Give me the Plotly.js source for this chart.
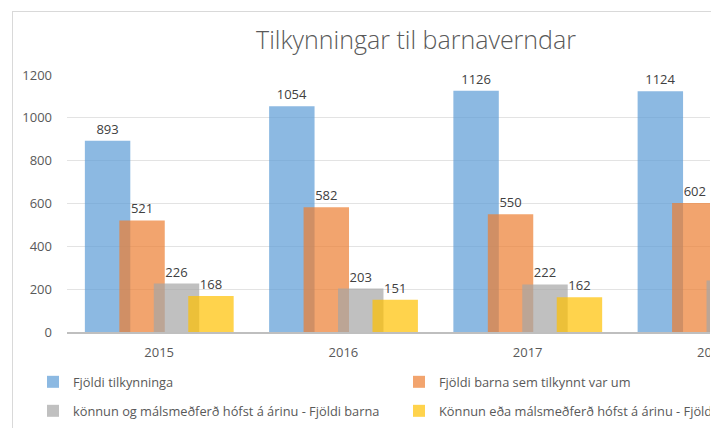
<!DOCTYPE html>
<html>
<head>
<meta charset="utf-8">
<script src="https://cdn.plot.ly/plotly-3.0.1.min.js"></script>
<style>
  html, body { margin: 0; padding: 0; overflow: hidden; background: #fff; width: 722px; height: 428px; }
  #chart { position: absolute; left: 0; top: 0; width: 820px; height: 428px; }
  #mask { position: absolute; left: 710px; top: 0; width: 120px; height: 428px; background: #fff; z-index: 10; }
  #frame { position: absolute; left: 12px; top: 11px; width: 698px; height: 430px; border-top: 1px solid #d9d9d9; border-left: 1px solid #d9d9d9; z-index: 11; pointer-events: none; }
</style>
</head>
<body>
<div id="chart"></div>
<div id="mask"></div>
<div id="frame"></div>
<script>
const years = ['2015', '2016', '2017', '2018'];
const fjoldiTilkynninga = [893, 1054, 1126, 1124];
const fjoldiBarna = [521, 582, 550, 602];
const konnunFjoldiBarna = [226, 203, 222, 240];
const konnunFjoldiMala = [168, 151, 162, 180];
const seriesNames = [
  'Fjöldi tilkynninga',
  'Fjöldi barna sem tilkynnt var um',
  'könnun og málsmeðferð hófst á árinu - Fjöldi barna',
  'Könnun eða málsmeðferð hófst á árinu - Fjöldi mála'
];
const seriesValues = [fjoldiTilkynninga, fjoldiBarna, konnunFjoldiBarna, konnunFjoldiMala];
const colors = ['rgba(91,155,213,0.7)', 'rgba(237,125,49,0.7)', 'rgba(165,165,165,0.7)', 'rgba(255,192,0,0.7)'];
const offsets = [-0.403, -0.216, -0.029, 0.158];
const legendIds = ['legend', 'legend', 'legend2', 'legend2'];

const FONT = 'Open Sans, DejaVu Sans, sans-serif';
const W = 820, H = 428;

const traces = seriesValues.map((vals, i) => ({
  type: 'bar',
  name: seriesNames[i],
  x: years,
  y: vals,
  width: 0.2466,
  offset: offsets[i],
  marker: { color: colors[i], line: { width: 0 } },
  text: vals.map(String),
  textposition: 'outside',
  cliponaxis: false,
  constraintext: 'none',
  textfont: { family: FONT, size: 13, color: '#404040' },
  legend: legendIds[i]
}));

const legendCommon = {
  orientation: 'h',
  xref: 'container', x: 33 / W, xanchor: 'left',
  yref: 'container', yanchor: 'middle',
  entrywidth: 321, entrywidthmode: 'pixels',
  font: { family: FONT, size: 12.8, color: '#595959' },
  bgcolor: 'rgba(0,0,0,0)'
};

const layout = {
  width: W,
  height: H,
  barmode: 'overlay',
  paper_bgcolor: '#ffffff',
  plot_bgcolor: '#ffffff',
  margin: { l: 66.5, r: W - 804.5, t: 75, b: 96 },
  font: { family: FONT, color: '#595959' },
  title: {
    text: 'Tilkynningar til barnaverndar',
    font: { family: FONT, size: 25, color: '#595959', weight: 300 },
    xref: 'container', x: 416 / W, xanchor: 'center',
    yref: 'container', y: 1 - 40 / H, yanchor: 'middle'
  },
  xaxis: {
    type: 'category',
    range: [-0.5, 3.5],
    showline: true, linecolor: '#bfbfbf', linewidth: 1.5,
    showgrid: false, zeroline: false, ticks: '',
    tickfont: { family: FONT, size: 13, color: '#595959' },
    ticklabelstandoff: 8
  },
  yaxis: {
    range: [0, 1200],
    dtick: 200,
    showline: false,
    gridcolor: '#e3e3e3', gridwidth: 1,
    zeroline: false, ticks: '',
    tickfont: { family: FONT, size: 13, color: '#595959' },
    ticklabelstandoff: 14
  },
  showlegend: true,
  legend: Object.assign({}, legendCommon, { y: 1 - 382 / H }),
  legend2: Object.assign({}, legendCommon, { y: 1 - 411 / H })
};

Plotly.newPlot('chart', traces, layout, { displayModeBar: false, staticPlot: true });
</script>
</body>
</html>
